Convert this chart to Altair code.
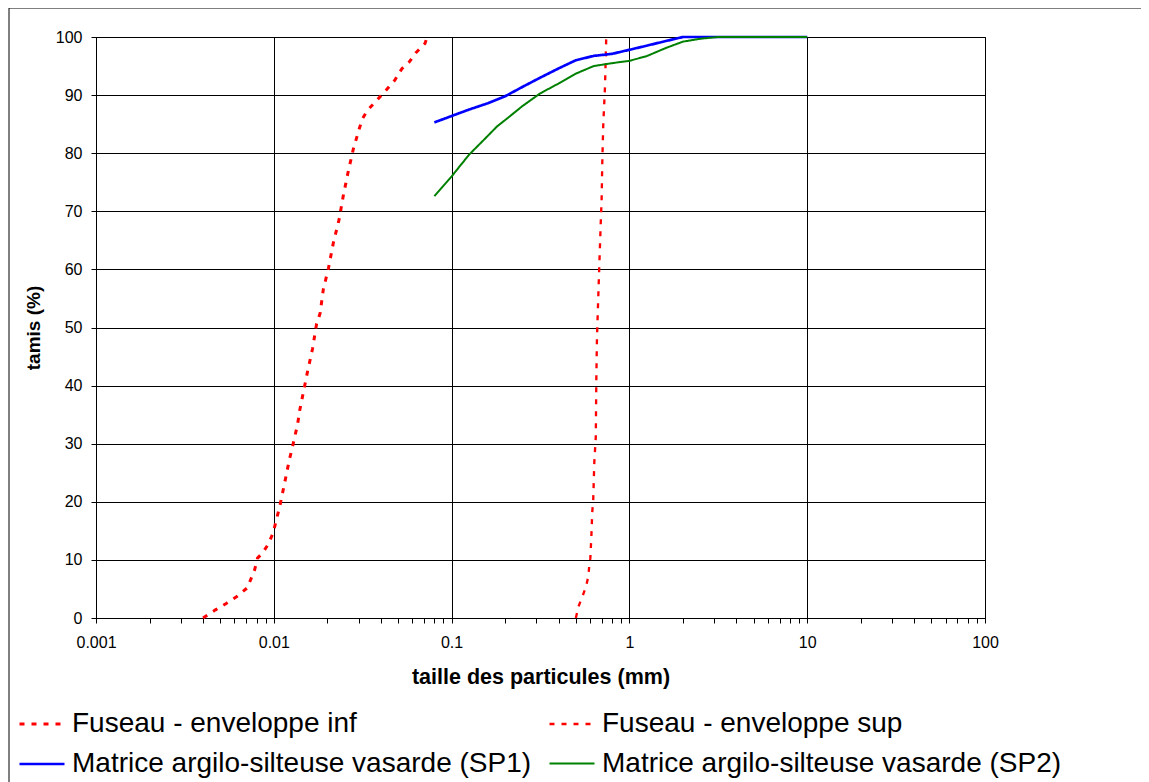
import altair as alt
import pandas as pd

# ---- data ----
series_names = [
    "Fuseau - enveloppe inf",
    "Fuseau - enveloppe sup",
    "Matrice argilo-silteuse vasarde (SP1)",
    "Matrice argilo-silteuse vasarde (SP2)",
]

inf_x = [0.0040, 0.0047, 0.0054, 0.0062, 0.0071, 0.0078, 0.0081, 0.0087, 0.0093, 0.0099,
         0.0108, 0.0115, 0.0122, 0.0127, 0.0136, 0.0140, 0.0149, 0.0154, 0.0165, 0.0174,
         0.0182, 0.0190, 0.0203, 0.0216, 0.0233, 0.0246, 0.0262, 0.0280, 0.0303, 0.0316,
         0.0337, 0.0371, 0.0404, 0.0441, 0.0480, 0.0524, 0.0578, 0.0630, 0.0709, 0.0728]
inf_y = [0.0, 1.4, 2.5, 3.7, 5.2, 8.3, 10.3, 11.3, 12.7, 14.6,
         19.2, 23.2, 27.1, 29.3, 33.3, 35.8, 39.9, 42.1, 46.3, 50.6,
         52.4, 56.6, 60.2, 64.5, 68.6, 72.7, 76.8, 80.7, 84.3, 86.0,
         87.4, 88.8, 90.0, 91.3, 92.6, 94.5, 95.7, 97.3, 98.9, 100.0]

sup_x = [0.500, 0.516, 0.543, 0.570, 0.588, 0.595, 0.603, 0.611, 0.618, 0.626,
         0.635, 0.647, 0.652, 0.657, 0.660, 0.676, 0.690, 0.698, 0.704, 0.713,
         0.729, 0.741]
sup_y = [0.0, 1.9, 3.6, 5.4, 7.2, 9.1, 10.3, 14.0, 18.2, 20.4,
         26.9, 31.1, 41.8, 48.1, 50.1, 60.0, 68.0, 72.1, 78.5, 85.0,
         91.4, 100.0]

sp1_x = [0.08, 0.1, 0.125, 0.16, 0.2, 0.25, 0.315, 0.4, 0.5, 0.63, 0.8, 1.0,
         1.25, 1.6, 2.0, 5.0, 10.0]
sp1_y = [85.3, 86.4, 87.5, 88.6, 89.8, 91.4, 93.0, 94.6, 96.0, 96.75, 97.1, 97.8,
         98.5, 99.3, 100.0, 100.0, 100.0]

sp2_x = [0.08, 0.1, 0.125, 0.16, 0.18, 0.2, 0.25, 0.315, 0.4, 0.5, 0.63, 0.8, 1.0,
         1.25, 1.6, 2.0, 2.5, 3.15, 5.0, 10.0]
sp2_y = [72.6, 76.0, 79.7, 83.0, 84.6, 85.7, 88.1, 90.3, 92.0, 93.7, 95.0, 95.5, 95.9,
         96.7, 98.1, 99.2, 99.7, 100.0, 100.0, 100.0]

series_colors = ["#FF0000", "#FF0000", "#0000FF", "#008000"]
series_dashes = [[5, 7], [5, 7], [1, 0], [1, 0]]
series_widths = [3, 3, 2, 2]

rows = []
for name, xs, ys in zip(series_names, [inf_x, sup_x, sp1_x, sp2_x], [inf_y, sup_y, sp1_y, sp2_y]):
    for i, (a, b) in enumerate(zip(xs, ys)):
        rows.append({"serie": name, "taille": a, "tamis": b, "ordre": i})
df = pd.DataFrame(rows)

# legend grid fills column by column: reorder so rows read inf/sup then SP1/SP2
legend_order = [0, 2, 1, 3]
dom = [series_names[i] for i in legend_order]
col_rng = [series_colors[i] for i in legend_order]
dash_rng = [series_dashes[i] for i in legend_order]
width_rng = [series_widths[i] for i in legend_order]

decades = [0.001, 0.01, 0.1, 1, 10, 100]
minor = [float(f"{k}e{e}") for e in range(-3, 2) for k in range(2, 10)]
x_ticks = sorted(decades + minor)
decade_test = "abs(log(datum.value) / LN10 - round(log(datum.value) / LN10)) < 0.000001"

FONT = "Liberation Sans"

legend = alt.Legend(
    title=None, orient="none", legendX=-78, legendY=663, columns=2,
    columnPadding=12, rowPadding=2, symbolType="stroke", symbolSize=2025,
    symbolStrokeWidth=2.5, labelFont=FONT, labelFontSize=28, labelColor="black",
    labelOffset=6, labelLimit=1000, padding=0,
)

lines = alt.Chart(df).mark_line(strokeCap="butt", strokeJoin="round").encode(
    x=alt.X(
        "taille:Q",
        scale=alt.Scale(type="log", domain=[0.001, 100], nice=False),
        axis=alt.Axis(
            values=x_ticks,
            labelExpr=f"({decade_test}) ? format(datum.value, '~g') : ''",
            gridOpacity={"condition": {"test": decade_test, "value": 1}, "value": 0},
            title="taille des particules (mm)",
            titleFontSize=21.5, labelPadding=11, titlePadding=16,
            labelOverlap=False, labelFlush=False,
        ),
    ),
    y=alt.Y(
        "tamis:Q",
        scale=alt.Scale(domain=[0, 100], nice=False),
        axis=alt.Axis(
            values=list(range(0, 101, 10)), title="tamis (%)",
            titleFontSize=19, labelPadding=9, titlePadding=12,
        ),
    ),
    color=alt.Color("serie:N", scale=alt.Scale(domain=dom, range=col_rng), legend=legend),
    strokeDash=alt.StrokeDash("serie:N", scale=alt.Scale(domain=dom, range=dash_rng), legend=legend),
    strokeWidth=alt.StrokeWidth("serie:N", scale=alt.Scale(domain=dom, range=width_rng), legend=None),
    order="ordre:Q",
)

frame_data = pd.DataFrame({"k": [0]})
top_rule = alt.Chart(frame_data).mark_rule(color="black", strokeWidth=1).encode(
    x=alt.value(-87), x2=alt.value(1045), y=alt.value(-29)
)
left_rule = alt.Chart(frame_data).mark_rule(color="black", strokeWidth=1).encode(
    x=alt.value(-87), y=alt.value(-29), y2=alt.value(780)
)

chart = alt.layer(lines, top_rule, left_rule).properties(
    width=889, height=581,
    autosize=alt.AutoSizeParams(type="none"),
    padding={"left": 88, "top": 29, "right": 156, "bottom": 172},
).configure_view(
    stroke="black", strokeWidth=1
).configure_axis(
    labelFont=FONT, labelFontSize=16, labelColor="black",
    titleFont=FONT, titleFontWeight="bold", titleColor="black",
    tickColor="black", tickSize=5, tickWidth=1,
    domainColor="black", domainWidth=1,
    gridColor="black", gridWidth=1,
)

chart.save("out.html", embed_options={"renderer": "svg", "actions": False})
